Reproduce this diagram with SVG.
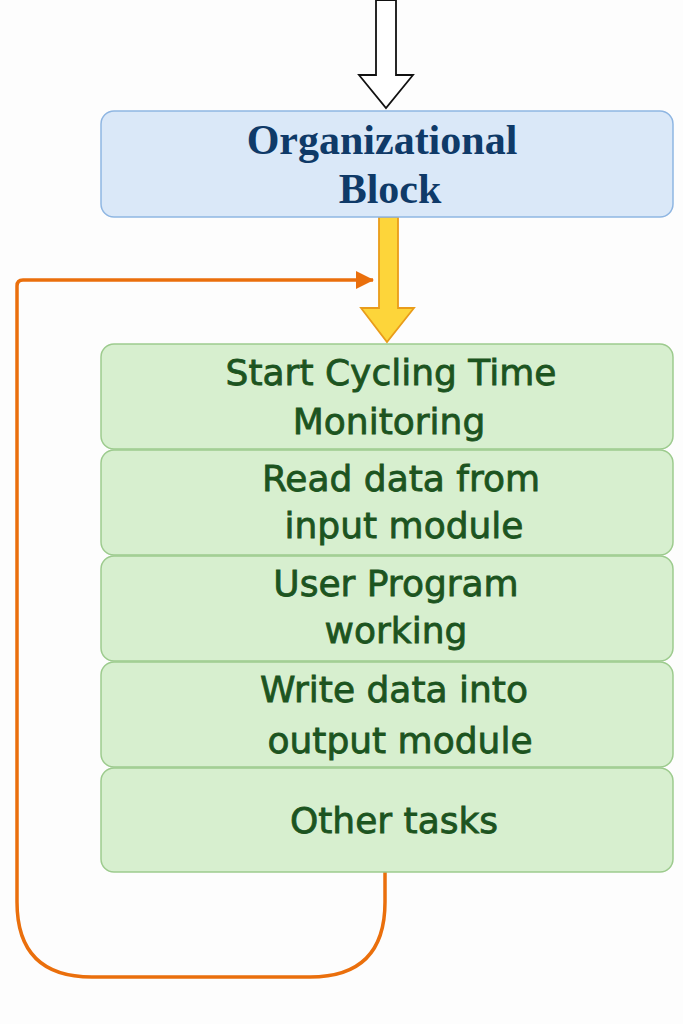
<svg xmlns="http://www.w3.org/2000/svg" width="683" height="1024" viewBox="0 0 683 1024">
<style>
.bg{fill:#fdfdfd}
.org rect{fill:#dae8f8;stroke:#8fb6e2;stroke-width:1.5}
.org text{font-family:"Liberation Serif","Times New Roman",serif;font-weight:bold;font-size:42px;fill:#0f3a68;text-anchor:middle}
.step rect{fill:#d7efcf;stroke:#9dcb8e;stroke-width:1.5}
.step text{font-family:"DejaVu Sans","Noto Sans",sans-serif;font-size:36px;fill:#1c5420;stroke:#1c5420;stroke-width:0.8;text-anchor:middle}
.loop{fill:none;stroke:#ea6f0c;stroke-width:3.5}
</style>
<defs>
<marker id="ah" markerWidth="20" markerHeight="18" refX="17" refY="9" orient="auto" markerUnits="userSpaceOnUse">
<path d="M0,0 L18,9 L0,18 Z" fill="#ea6f0c"/>
</marker>
</defs>
<rect class="bg" x="0" y="0" width="683" height="1024"/>
<g id="connectors">
<path id="input-arrow" d="M376,0 L396,0 L396,75 L413,75 L386,108 L359,75 L376,75 Z" fill="#ffffff" stroke="#111111" stroke-width="1.8"/>
<path id="yellow-arrow" d="M379,217 L398,217 L398,308 L414,308 L387,342 L361,308 L379,308 Z" fill="#fdd53a" stroke="#e99c1a" stroke-width="1.8"/>
<path id="loop" class="loop" d="M385,872 L385,902 Q385,977 310,977 L92,977 Q17,977 17,902 L17,286 Q17,280 23,280 L373,280" marker-end="url(#ah)"/>
</g>
<g id="org-block" class="org">
<rect x="101" y="111" width="572" height="106" rx="13"/>
<text x="382" y="154">Organizational</text>
<text x="390" y="203">Block</text>
</g>
<g id="step1" class="step">
<rect x="101" y="344" width="572" height="105" rx="13"/>
<text x="391" y="385">Start Cycling Time</text>
<text x="389" y="434">Monitoring</text>
</g>
<g id="step2" class="step">
<rect x="101" y="450" width="572" height="105" rx="13"/>
<text x="401" y="491">Read data from</text>
<text x="404" y="538">input module</text>
</g>
<g id="step3" class="step">
<rect x="101" y="556" width="572" height="105" rx="13"/>
<text x="396" y="596">User Program</text>
<text x="396" y="643">working</text>
</g>
<g id="step4" class="step">
<rect x="101" y="662" width="572" height="105" rx="13"/>
<text x="394" y="702">Write data into</text>
<text x="400" y="753">output module</text>
</g>
<g id="step5" class="step">
<rect x="101" y="768" width="572" height="104" rx="13"/>
<text x="394" y="833">Other tasks</text>
</g>
</svg>
